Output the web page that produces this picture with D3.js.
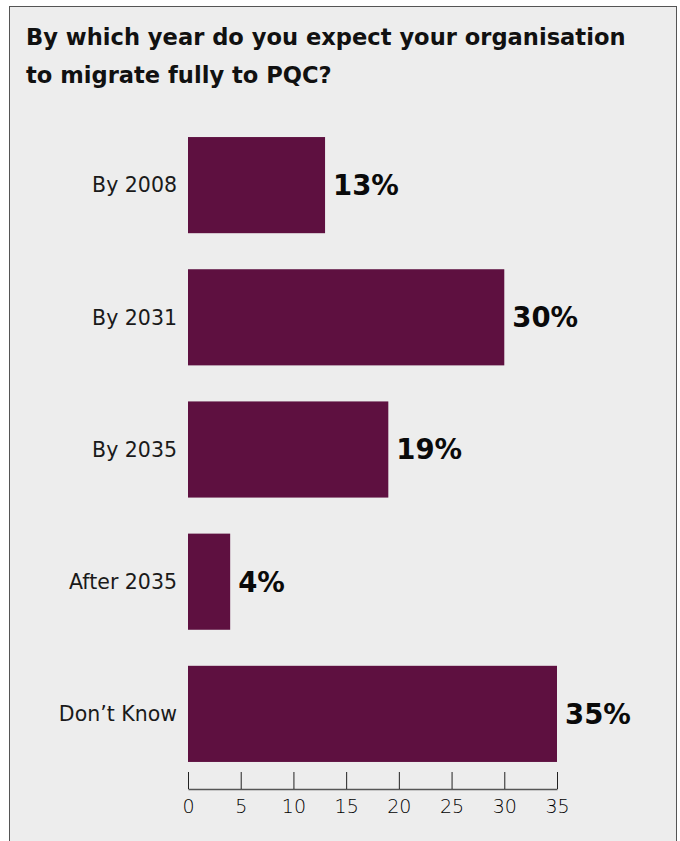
<!DOCTYPE html>
<html>
<head>
<meta charset="utf-8">
<script src="https://cdn.jsdelivr.net/npm/d3@7"></script>
<style>
  html, body { margin: 0; padding: 0; background: #ffffff; }
  svg { display: block; }
  text { font-family: "DejaVu Sans", "Noto Sans", sans-serif; }
</style>
</head>
<body>
<svg id="chart" width="680" height="841"></svg>
<script>
// Survey question and answers
const titleLines = ["By which year do you expect your organisation", "to migrate fully to PQC?"];
const categories = ["By 2008", "By 2031", "By 2035", "After 2035", "Don\u2019t Know"];
const percentages = [13, 30, 19, 4, 35];
const tickValues = [0, 5, 10, 15, 20, 25, 30, 35];

const W = 680, H = 841;
const svg = d3.select("#chart");

// Panel background with thin frame
svg.append("rect")
  .attr("x", 9.5).attr("y", 6.5)
  .attr("width", 667).attr("height", H)
  .attr("fill", "#ededed")
  .attr("stroke", "#555555")
  .attr("stroke-width", 1);

// Title
svg.append("g").selectAll("text")
  .data(titleLines)
  .join("text")
  .attr("x", 26)
  .attr("y", (d, i) => 45 + i * 38)
  .attr("font-size", 22.6)
  .attr("font-weight", 700)
  .attr("fill", "#111111")
  .text(d => d);

const x = d3.scaleLinear().domain([0, 35]).range([188, 557]);
const y = d3.scaleBand().domain(categories).range([101, 798]).padding(0.2727);

const rows = categories.map((c, i) => ({ cat: c, val: percentages[i] }));

// Bars
svg.append("g").selectAll("rect")
  .data(rows)
  .join("rect")
  .attr("x", x(0))
  .attr("y", d => y(d.cat))
  .attr("width", d => x(d.val) - x(0))
  .attr("height", y.bandwidth())
  .attr("fill", "#5e1040");

// Category labels
svg.append("g").selectAll("text")
  .data(rows)
  .join("text")
  .attr("x", 177)
  .attr("y", d => y(d.cat) + y.bandwidth() / 2)
  .attr("dy", "0.36em")
  .attr("text-anchor", "end")
  .attr("font-size", 20.5)
  .attr("fill", "#1a1a1a")
  .text(d => d.cat);

// Value labels
svg.append("g").selectAll("text")
  .data(rows)
  .join("text")
  .attr("x", d => x(d.val) + 8)
  .attr("y", d => y(d.cat) + y.bandwidth() / 2)
  .attr("dy", "0.36em")
  .attr("font-size", 27.5)
  .attr("font-weight", 700)
  .attr("fill", "#0a0a0a")
  .text(d => d.val + "%");

// Axis with ticks rising above the baseline
const axis = svg.append("g")
  .attr("transform", "translate(0,789)")
  .call(d3.axisBottom(x).tickValues(tickValues).tickSize(0).tickPadding(11));
axis.select(".domain").attr("stroke", "#555555").attr("stroke-width", 1.5);
axis.selectAll(".tick line")
  .attr("y1", 0).attr("y2", -17)
  .attr("stroke", "#222222").attr("stroke-width", 1);
axis.selectAll(".tick text")
  .attr("font-size", 19)
  .attr("font-family", "\"DejaVu Sans\", sans-serif")
  .attr("font-weight", 200)
  .attr("fill", "#000000")
  .attr("dy", "0.71em");
</script>
</body>
</html>
